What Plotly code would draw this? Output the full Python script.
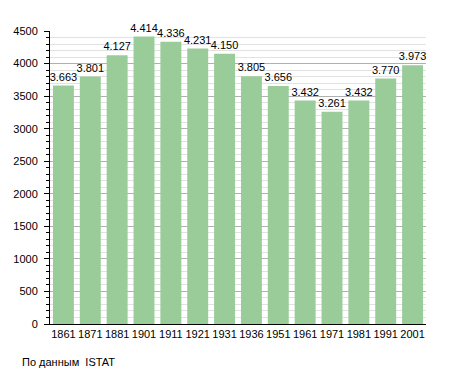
import plotly.graph_objects as go

years = ["1861", "1871", "1881", "1901", "1911", "1921", "1931", "1936", "1951", "1961", "1971", "1981", "1991", "2001"]
population = [3663, 3801, 4127, 4414, 4336, 4231, 4150, 3805, 3656, 3432, 3261, 3432, 3770, 3973]
labels = [f"{v/1000:.3f}" for v in population]

fig = go.Figure()
fig.add_trace(go.Bar(
    x=years, y=population, text=labels, textposition="outside",
    textfont=dict(family="Liberation Sans, Arial", size=11, color="black"),
    marker=dict(color="#99cc99", line=dict(width=0)),
    width=0.78, cliponaxis=False,
))
fig.update_layout(
    width=455, height=373,
    margin=dict(l=42, r=37, t=23, b=57, autoexpand=False),
    uniformtext=dict(minsize=11, mode="show"),
    paper_bgcolor="white", plot_bgcolor="white",
    font=dict(family="Liberation Sans, Arial", size=11, color="black"),
    showlegend=False,
    xaxis=dict(type="category", showline=True, linecolor="black", linewidth=1,
               ticks="", showgrid=False, tickfont=dict(size=11), automargin=False),
    yaxis=dict(range=[0, 4500], tick0=0, dtick=500, showline=True, linecolor="black",
               linewidth=1, ticks="outside", ticklen=5, tickcolor="black",
               ticklabelstandoff=4,
               showgrid=True, gridcolor="#b0b0b0", gridwidth=1, zeroline=False,
               automargin=False,
               minor=dict(dtick=100, showgrid=True, gridcolor="#e2e2e2",
                          ticks="outside", ticklen=3, tickcolor="black"),
               tickfont=dict(size=11)),
    annotations=[dict(text="По данным  ISTAT", xref="paper", yref="paper",
                      x=-30/376, y=-38/293, xanchor="left", yanchor="middle",
                      showarrow=False, font=dict(size=11))],
)
fig.write_html("out.html")
